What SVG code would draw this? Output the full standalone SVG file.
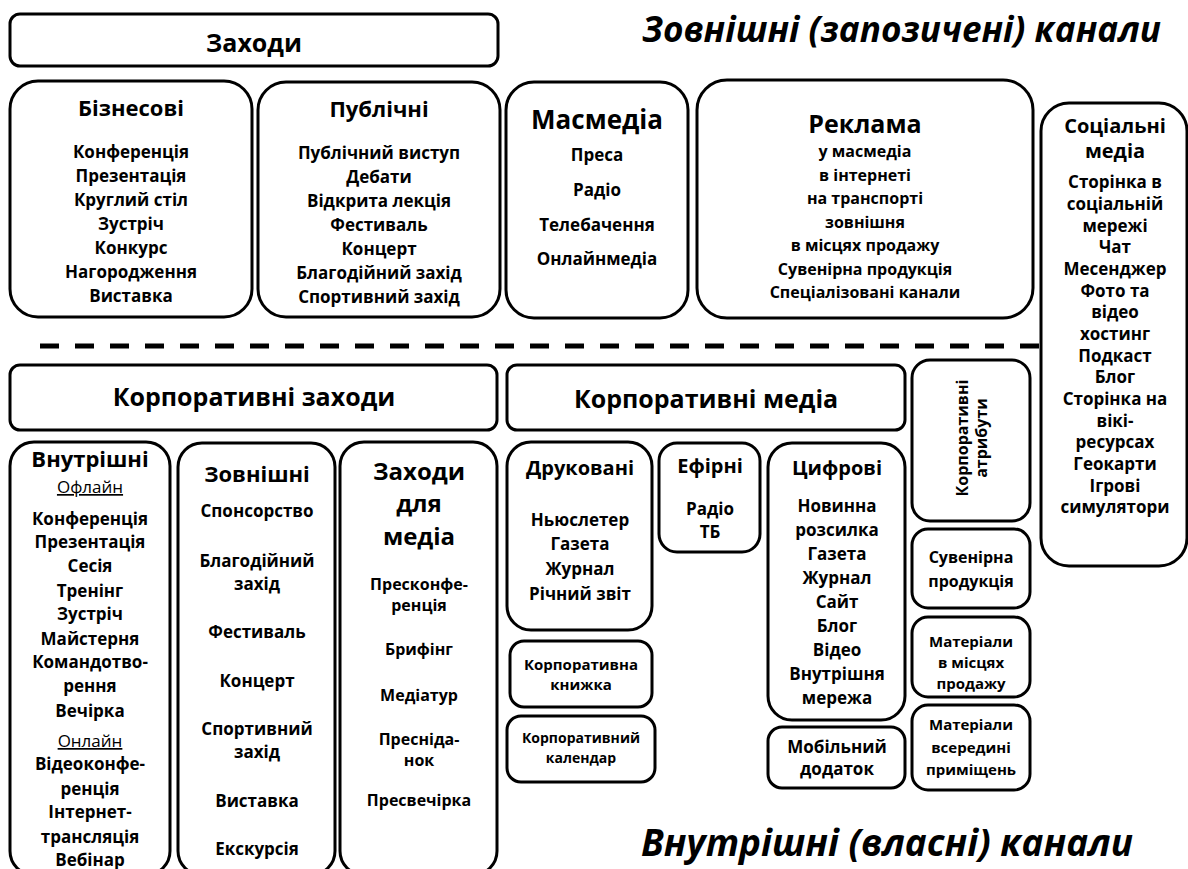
<svg xmlns="http://www.w3.org/2000/svg" width="1188" height="869" viewBox="0 0 1188 869">
<style>
.b{fill:#fff;stroke:#000;stroke-width:3}
.t{font-family:"Open Sans","Noto Sans",sans-serif;font-weight:700;text-anchor:middle;fill:#000}
.hd{font-size:25px}
.ti{font-size:22px}
.ti2{font-size:20px}
.it{font-size:17px}
.is{font-size:16px}
.sm{font-size:15px}
.xs{font-size:14px}
.u{font-weight:400;text-decoration:underline}
.big{font-family:"Open Sans","Noto Sans",sans-serif;font-weight:700;font-style:italic;fill:#000}
</style>
<rect width="1188" height="869" fill="#fff"/>
<g id="connectors">
<line x1="40" y1="346" x2="1040" y2="346" stroke="#000" stroke-width="5" stroke-dasharray="19 16"/>
</g>
<g id="heading-external"><text class="big" style="font-size:35px" x="642" y="42" textLength="519" lengthAdjust="spacingAndGlyphs">Зовнішні (запозичені) канали</text></g>
<g id="heading-internal"><text class="big" style="font-size:37px" x="641" y="856" textLength="492" lengthAdjust="spacingAndGlyphs">Внутрішні (власні) канали</text></g>

<g id="zakhody"><rect class="b" x="10" y="14" width="488" height="52" rx="10"/><text class="t hd" x="254" y="52">Заходи</text></g>

<g id="biznesovi"><rect class="b" x="10" y="81" width="242" height="236" rx="28"/>
<text class="t ti" x="131" y="116">Бізнесові</text>
<text class="t it" x="131" y="158">Конференція</text>
<text class="t it" x="131" y="182">Презентація</text>
<text class="t it" x="131" y="206">Круглий стіл</text>
<text class="t it" x="131" y="230">Зустріч</text>
<text class="t it" x="131" y="254">Конкурс</text>
<text class="t it" x="131" y="278">Нагородження</text>
<text class="t it" x="131" y="302">Виставка</text></g>

<g id="publichni"><rect class="b" x="258" y="82" width="242" height="235" rx="28"/>
<text class="t ti" x="379" y="117">Публічні</text>
<text class="t it" x="379" y="159">Публічний виступ</text>
<text class="t it" x="379" y="183">Дебати</text>
<text class="t it" x="379" y="207">Відкрита лекція</text>
<text class="t it" x="379" y="231">Фестиваль</text>
<text class="t it" x="379" y="255">Концерт</text>
<text class="t it" x="379" y="279">Благодійний захід</text>
<text class="t it" x="379" y="303">Спортивний захід</text></g>

<g id="masmedia"><rect class="b" x="506" y="82" width="182" height="236" rx="28"/>
<text class="t" style="font-size:26px" x="597" y="129">Масмедіа</text>
<text class="t it" x="597" y="161">Преса</text>
<text class="t it" x="597" y="196">Радіо</text>
<text class="t it" x="597" y="231">Телебачення</text>
<text class="t it" x="597" y="265">Онлайнмедіа</text></g>

<g id="reklama"><rect class="b" x="697" y="80" width="336" height="238" rx="30"/>
<text class="t hd" x="865" y="133">Реклама</text>
<text class="t is" x="865" y="157">у масмедіа</text>
<text class="t is" x="865" y="181">в інтернеті</text>
<text class="t is" x="865" y="204">на транспорті</text>
<text class="t is" x="865" y="228">зовнішня</text>
<text class="t is" x="865" y="251">в місцях продажу</text>
<text class="t is" x="865" y="275">Сувенірна продукція</text>
<text class="t is" x="865" y="298">Спеціалізовані канали</text></g>

<g id="socialni"><rect class="b" x="1041" y="103" width="146" height="463" rx="28"/>
<text class="t ti2" x="1115" y="133">Соціальні</text>
<text class="t ti2" x="1115" y="158">медіа</text>
<text class="t it" x="1115" y="188">Сторінка в</text>
<text class="t it" x="1115" y="210">соціальній</text>
<text class="t it" x="1115" y="232">мережі</text>
<text class="t it" x="1115" y="253">Чат</text>
<text class="t it" x="1115" y="275">Месенджер</text>
<text class="t it" x="1115" y="297">Фото та</text>
<text class="t it" x="1115" y="318">відео</text>
<text class="t it" x="1115" y="340">хостинг</text>
<text class="t it" x="1115" y="362">Подкаст</text>
<text class="t it" x="1115" y="383">Блог</text>
<text class="t it" x="1115" y="405">Сторінка на</text>
<text class="t it" x="1115" y="427">вікі-</text>
<text class="t it" x="1115" y="448">ресурсах</text>
<text class="t it" x="1115" y="470">Геокарти</text>
<text class="t it" x="1115" y="492">Ігрові</text>
<text class="t it" x="1115" y="513">симулятори</text></g>

<g id="korp-zakhody"><rect class="b" x="10" y="365" width="487" height="65" rx="10"/><text class="t hd" x="254" y="406">Корпоративні заходи</text></g>
<g id="korp-media"><rect class="b" x="507" y="365" width="398" height="65" rx="10"/><text class="t hd" x="706" y="408">Корпоративні медіа</text></g>

<g id="vnutrishni"><rect class="b" x="10" y="442" width="160" height="433" rx="24"/>
<text class="t ti" x="90" y="467">Внутрішні</text>
<text class="t it u" x="90" y="493">Офлайн</text>
<text class="t it" x="90" y="525">Конференція</text>
<text class="t it" x="90" y="548">Презентація</text>
<text class="t it" x="90" y="572">Сесія</text>
<text class="t it" x="90" y="597">Тренінг</text>
<text class="t it" x="90" y="620">Зустріч</text>
<text class="t it" x="90" y="645">Майстерня</text>
<text class="t it" x="90" y="668">Командотво-</text>
<text class="t it" x="90" y="692">рення</text>
<text class="t it" x="90" y="717">Вечірка</text>
<text class="t it u" x="90" y="747">Онлайн</text>
<text class="t it" x="90" y="770">Відеоконфе-</text>
<text class="t it" x="90" y="795">ренція</text>
<text class="t it" x="90" y="818">Інтернет-</text>
<text class="t it" x="90" y="843">трансляція</text>
<text class="t it" x="90" y="866">Вебінар</text></g>

<g id="zovnishni"><rect class="b" x="178" y="443" width="157" height="432" rx="24"/>
<text class="t ti" x="257" y="482">Зовнішні</text>
<text class="t it" x="257" y="517">Спонсорство</text>
<text class="t it" x="257" y="567">Благодійний</text>
<text class="t it" x="257" y="590">захід</text>
<text class="t it" x="257" y="638">Фестиваль</text>
<text class="t it" x="257" y="687">Концерт</text>
<text class="t it" x="257" y="735">Спортивний</text>
<text class="t it" x="257" y="758">захід</text>
<text class="t it" x="257" y="807">Виставка</text>
<text class="t it" x="257" y="855">Екскурсія</text></g>

<g id="zakhody-media"><rect class="b" x="340" y="442" width="157" height="433" rx="24"/>
<text class="t" style="font-size:24px" x="419" y="480">Заходи</text>
<text class="t" style="font-size:24px" x="419" y="512">для</text>
<text class="t" style="font-size:24px" x="419" y="545">медіа</text>
<text class="t is" x="419" y="590">Пресконфе-</text>
<text class="t is" x="419" y="611">ренція</text>
<text class="t is" x="419" y="655">Брифінг</text>
<text class="t is" x="419" y="701">Медіатур</text>
<text class="t is" x="419" y="745">Пресніда-</text>
<text class="t is" x="419" y="766">нок</text>
<text class="t is" x="419" y="806">Пресвечірка</text></g>

<g id="drukovani"><rect class="b" x="507" y="442" width="145" height="188" rx="24"/>
<text class="t ti2" x="580" y="475">Друковані</text>
<text class="t it" x="580" y="526">Ньюслетер</text>
<text class="t it" x="580" y="550">Газета</text>
<text class="t it" x="580" y="575">Журнал</text>
<text class="t it" x="580" y="600">Річний звіт</text></g>

<g id="efirni"><rect class="b" x="659" y="443" width="101" height="109" rx="18"/>
<text class="t ti2" x="710" y="473">Ефірні</text>
<text class="t it" x="710" y="515">Радіо</text>
<text class="t it" x="710" y="538">ТБ</text></g>

<g id="tsyfrovi"><rect class="b" x="768" y="443" width="137" height="277" rx="24"/>
<text class="t ti2" x="837" y="475">Цифрові</text>
<text class="t it" x="837" y="512">Новинна</text>
<text class="t it" x="837" y="536">розсилка</text>
<text class="t it" x="837" y="560">Газета</text>
<text class="t it" x="837" y="584">Журнал</text>
<text class="t it" x="837" y="608">Сайт</text>
<text class="t it" x="837" y="632">Блог</text>
<text class="t it" x="837" y="656">Відео</text>
<text class="t it" x="837" y="680">Внутрішня</text>
<text class="t it" x="837" y="704">мережа</text></g>

<g id="knyzhka"><rect class="b" x="510" y="641" width="142" height="66" rx="14"/>
<text class="t sm" x="581" y="670">Корпоративна</text>
<text class="t sm" x="581" y="690">книжка</text></g>

<g id="kalendar"><rect class="b" x="507" y="716" width="148" height="66" rx="14"/>
<text class="t xs" x="581" y="743">Корпоративний</text>
<text class="t xs" x="581" y="763">календар</text></g>

<g id="mobilnyi"><rect class="b" x="768" y="727" width="137" height="61" rx="14"/>
<text class="t it" x="837" y="753">Мобільний</text>
<text class="t it" x="837" y="775">додаток</text></g>

<g id="atrybuty"><rect class="b" x="912" y="360" width="118" height="161" rx="18"/>
<text class="t is" transform="translate(968,438) rotate(-90)">Корпоративні</text>
<text class="t is" transform="translate(987,438) rotate(-90)">атрибути</text></g>

<g id="suvenirna"><rect class="b" x="912" y="529" width="118" height="79" rx="16"/>
<text class="t is" x="971" y="563">Сувенірна</text>
<text class="t is" x="971" y="587">продукція</text></g>

<g id="materialy-prodazh"><rect class="b" x="912" y="617" width="118" height="80" rx="16"/>
<text class="t sm" x="971" y="647">Матеріали</text>
<text class="t sm" x="971" y="668">в місцях</text>
<text class="t sm" x="971" y="689">продажу</text></g>

<g id="materialy-prymishchen"><rect class="b" x="912" y="705" width="118" height="85" rx="16"/>
<text class="t sm" x="971" y="730">Матеріали</text>
<text class="t sm" x="971" y="753">всередині</text>
<text class="t sm" x="971" y="775">приміщень</text></g>
</svg>
